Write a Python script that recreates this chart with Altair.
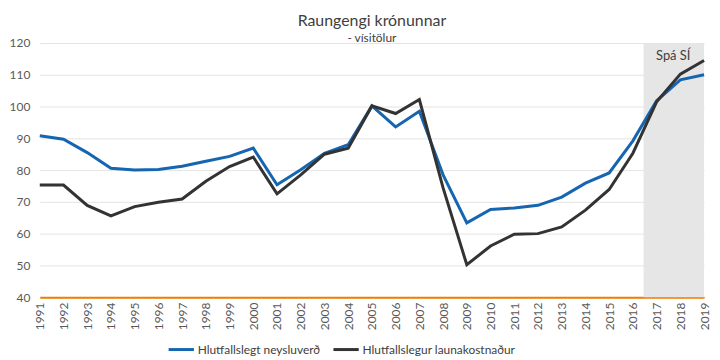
import altair as alt
import pandas as pd

years = list(range(1991, 2020))
neysluverd = [90.8, 89.7, 85.5, 80.6, 80.0, 80.2, 81.2, 82.8, 84.3, 86.9,
              75.4, 80.1, 85.3, 88.0, 100.2, 93.6, 98.5, 78.5, 63.4, 67.6,
              68.1, 68.9, 71.5, 75.9, 79.1, 89.2, 101.8, 108.4, 110.0]
launakostnadur = [75.3, 75.3, 68.9, 65.6, 68.5, 69.9, 70.9, 76.5, 81.1, 84.1,
                  72.5, 78.5, 85.0, 86.9, 100.2, 97.8, 102.2, 74.4, 50.2, 56.1,
                  59.8, 60.0, 62.1, 67.4, 73.9, 85.3, 101.5, 110.2, 114.5]
series_names = ["Hlutfallslegt neysluverð", "Hlutfallslegur launakostnaður"]
series_colors = ["#1565B0", "#333333"]

forecast_start = [2016.45]
forecast_end = [2019]
forecast_label = ["Spá SÍ"]

FONT = "Lato"

rows = []
for y, a, b in zip(years, neysluverd, launakostnadur):
    rows.append({"year": y, "series": series_names[0], "value": a})
    rows.append({"year": y, "series": series_names[1], "value": b})
df = pd.DataFrame(rows)

shade_df = pd.DataFrame({"x": forecast_start, "x2": forecast_end, "y": [40], "y2": [120]})
text_df = pd.DataFrame({"x": [2017.7], "y": [116], "label": forecast_label})

xscale = alt.Scale(domain=[1991, 2019], nice=False, zero=False)
yscale = alt.Scale(domain=[40, 120], nice=False, zero=False)

x_axis = alt.Axis(values=years, format="d", labelAngle=-90, title=None,
                  grid=False, ticks=False, domainColor="#F07D00",
                  domainWidth=2, labelColor="#595959", labelFontSize=12,
                  labelFont=FONT, labelPadding=5, labelOverlap=False,
                  labelBound=False, labelFlush=False)
y_axis = alt.Axis(values=list(range(40, 121, 10)), title=None, domain=False,
                  ticks=False, gridColor="#E4E4E4", labelColor="#595959",
                  labelFontSize=12, labelFont=FONT, labelPadding=10,
                  labelOverlap=False, labelFlush=False)

shade = alt.Chart(shade_df).mark_rect(color="#E6E6E6").encode(
    x=alt.X("x:Q", scale=xscale, axis=x_axis),
    x2="x2:Q",
    y=alt.Y("y:Q", scale=yscale, axis=y_axis),
    y2="y2:Q",
)

lines = alt.Chart(df).mark_line(strokeWidth=3).encode(
    x=alt.X("year:Q", scale=xscale, axis=x_axis),
    y=alt.Y("value:Q", scale=yscale, axis=y_axis),
    color=alt.Color("series:N",
                    scale=alt.Scale(domain=series_names, range=series_colors),
                    legend=alt.Legend(title=None, orient="none", legendX=128, legendY=294,
                                      direction="horizontal", symbolType="stroke",
                                      symbolStrokeWidth=3, symbolSize=650,
                                      labelFontSize=12, labelFont=FONT,
                                      labelColor="#404040", columnPadding=6,
                                      labelOffset=2)),
)

text = alt.Chart(text_df).mark_text(fontSize=13, font=FONT, color="#404040",
                                    align="center", baseline="middle").encode(
    x=alt.X("x:Q", scale=xscale, axis=x_axis),
    y=alt.Y("y:Q", scale=yscale, axis=y_axis),
    text="label:N",
)

chart = alt.layer(shade, lines, text).properties(
    width=669,
    height=256,
    title=alt.TitleParams("Raungengi krónunnar", subtitle="- vísitölur",
                          anchor="middle", fontSize=16, fontWeight="normal",
                          font=FONT, color="#404040", subtitleFontSize=12,
                          subtitleFont=FONT, subtitleColor="#404040",
                          offset=-7, subtitlePadding=4),
    autosize=alt.AutoSizeParams(type="none"),
    padding={"left": 32, "top": 34, "right": 8, "bottom": 58},
).configure_view(stroke=None)

chart.save("out.html", embed_options={"renderer": "svg", "actions": False})
